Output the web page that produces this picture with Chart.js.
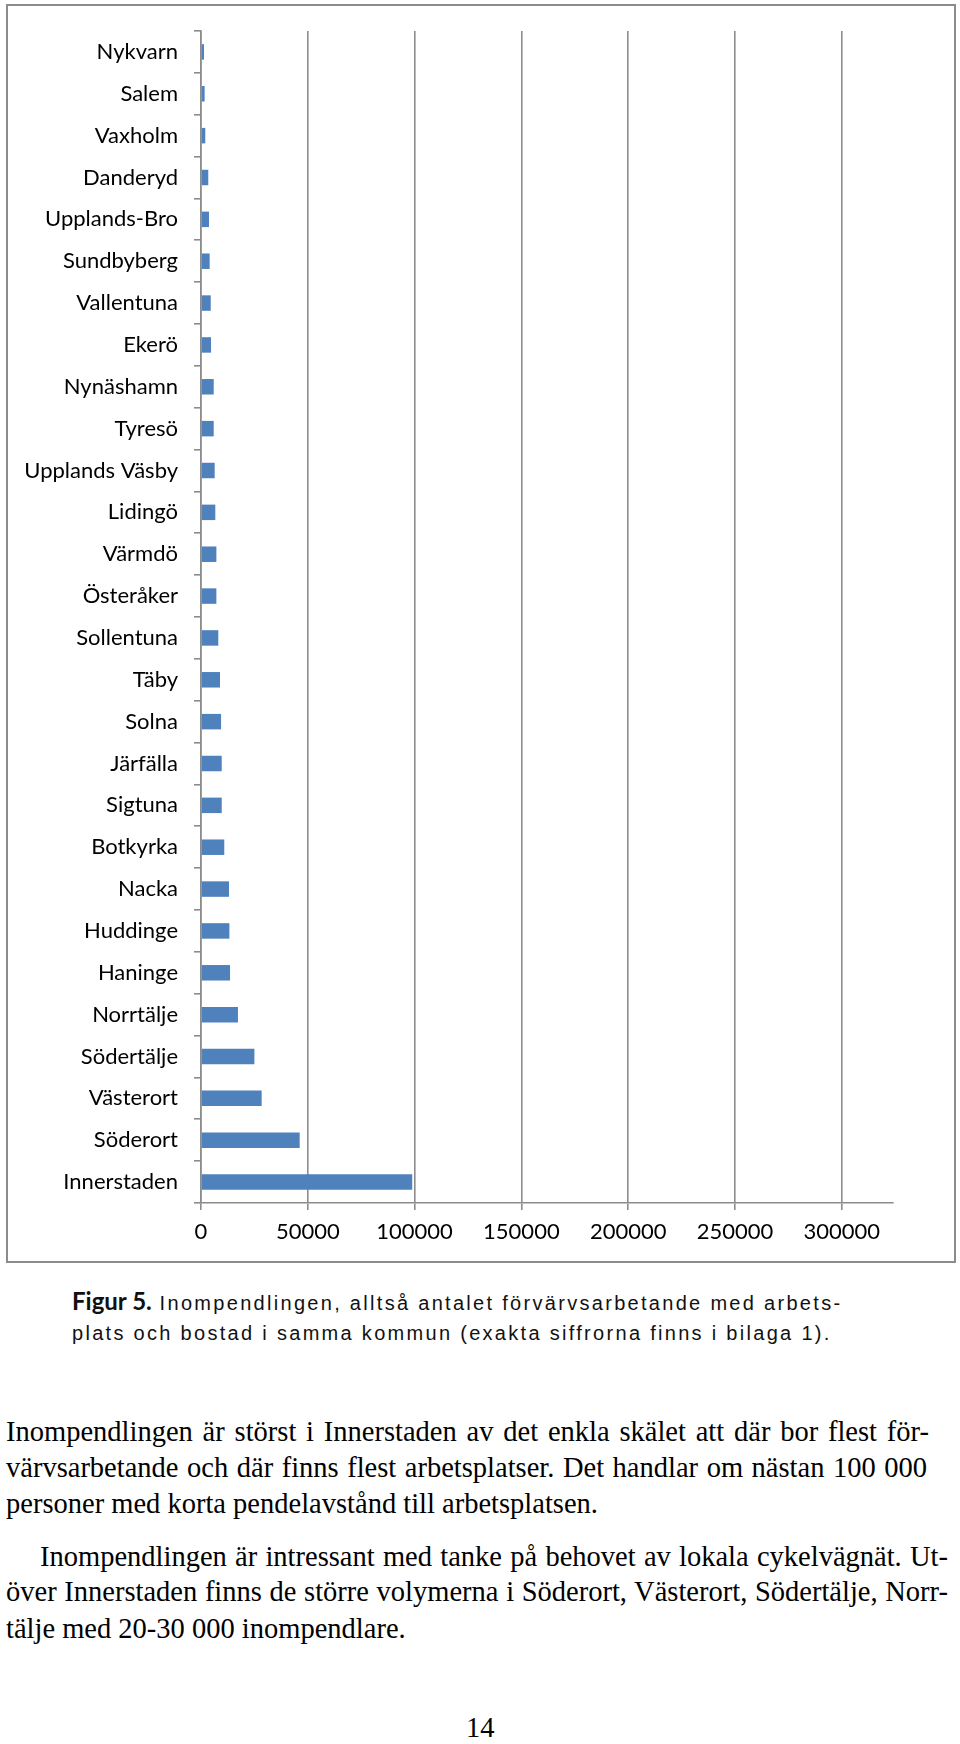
<!DOCTYPE html>
<html>
<head>
<meta charset="utf-8">
<script src="https://cdn.jsdelivr.net/npm/chart.js@4"></script>
<style>
  html, body { margin: 0; padding: 0; background: #fff; }
  body { width: 960px; height: 1744px; position: relative; overflow: hidden; }
  .frame { position: absolute; left: 6px; top: 4px; width: 950px; height: 1259px;
           box-sizing: border-box; border: 2px solid #8c8c8c; }
  .chart-box { position: absolute; left: 0; top: 0; width: 960px; height: 1270px; }
  .line { position: absolute; white-space: nowrap; }
  .just { text-align: justify; text-align-last: justify; }
  .cap { font-family: "Liberation Sans", Arial, sans-serif; font-size: 20px; letter-spacing: 2.3px; color: #111; }
  .cap b { font-family: Lato, sans-serif; font-size: 24px; letter-spacing: 0; }
  .body { font-family: "Liberation Serif", "Times New Roman", serif; font-size: 28.5px; color: #000; }
</style>
</head>
<body>
<div class="frame"></div>
<div class="chart-box"><canvas id="pendlingChart"></canvas></div>

<div class="line cap just" style="left:72px; top:1286px; width:764px;"><b>Figur 5.</b> Inompendlingen, alltså antalet förvärvsarbetande med arbets-</div>
<div class="line cap" style="left:72px; top:1322px;">plats och bostad i samma kommun (exakta siffrorna finns i bilaga 1).</div>

<div class="line body just" style="left:6px; top:1416px; width:923px;">Inompendlingen är störst i Innerstaden av det enkla skälet att där bor flest för-</div>
<div class="line body just" style="left:6px; top:1452px; width:921px;">värvsarbetande och där finns flest arbetsplatser. Det handlar om nästan 100 000</div>
<div class="line body" style="left:6px; top:1488px;">personer med korta pendelavstånd till arbetsplatsen.</div>
<div class="line body just" style="left:40px; top:1541px; width:908px;">Inompendlingen är intressant med tanke på behovet av lokala cykelvägnät. Ut-</div>
<div class="line body just" style="left:6px; top:1576px; width:942px;">över Innerstaden finns de större volymerna i Söderort, Västerort, Södertälje, Norr-</div>
<div class="line body" style="left:6px; top:1613px;">tälje med 20-30 000 inompendlare.</div>
<div class="line body" style="left:466px; top:1712px;">14</div>

<script>
// kommuner, uppifrån och ned
const kommuner = [
    'Nykvarn', 'Salem', 'Vaxholm', 'Danderyd', 'Upplands-Bro', 'Sundbyberg',
    'Vallentuna', 'Ekerö', 'Nynäshamn', 'Tyresö', 'Upplands Väsby', 'Lidingö',
    'Värmdö', 'Österåker', 'Sollentuna', 'Täby', 'Solna', 'Järfälla', 'Sigtuna',
    'Botkyrka', 'Nacka', 'Huddinge', 'Haninge', 'Norrtälje', 'Södertälje',
    'Västerort', 'Söderort', 'Innerstaden'
];

// inompendlare per kommun
const inompendlare = [
    1400, 1700, 2000, 3400, 3750, 4050,
    4550, 4700, 5950, 5950, 6400, 6700,
    7200, 7200, 8100, 8900, 9400, 9700, 9700,
    10900, 13100, 13300, 13600, 17300, 25000,
    28400, 46200, 98900
];

// x-axelns skalsteg
const xTicks = [0, 50000, 100000, 150000, 200000, 250000, 300000];
const xMax = 324000;

const labelFont = { family: 'Lato, sans-serif', size: 22 };
const axelGra = '#8c8c8c';

document.addEventListener('DOMContentLoaded', function() {
    const ctx = document.getElementById('pendlingChart').getContext('2d');
    new Chart(ctx, {
        type: 'bar',
        data: {
            labels: kommuner,
            datasets: [{
                label: 'Inompendling',
                data: inompendlare,
                backgroundColor: '#4F81BD',
                borderWidth: 0,
                barPercentage: 0.37,
                categoryPercentage: 1
            }]
        },
        options: {
            indexAxis: 'y',
            responsive: true,
            maintainAspectRatio: false,
            animation: false,
            layout: { padding: { left: 0, top: 31, right: 67, bottom: 17 } },
            plugins: {
                legend: { display: false },
                tooltip: { enabled: false }
            },
            scales: {
                x: {
                    min: 0,
                    max: xMax,
                    ticks: {
                        color: '#000',
                        font: labelFont,
                        padding: 9,
                        maxRotation: 0,
                        autoSkip: false,
                        callback: v => String(v)
                    },
                    // egna skalsteg var 50000
                    afterBuildTicks: scale => {
                        scale.ticks = xTicks.map(v => ({ value: v }));
                    },
                    afterFit: scale => { scale.height = 50; },
                    grid: { color: axelGra, lineWidth: 1.6, tickLength: 7 },
                    border: { color: axelGra, width: 1.6 }
                },
                y: {
                    ticks: {
                        color: '#000',
                        font: labelFont,
                        padding: 16,
                        autoSkip: false
                    },
                    afterFit: scale => { scale.width = 201; },
                    grid: { drawOnChartArea: false, color: axelGra, lineWidth: 1.6, tickLength: 7 },
                    border: { color: axelGra, width: 1.6 }
                }
            }
        }
    });
});
</script>
</body>
</html>
